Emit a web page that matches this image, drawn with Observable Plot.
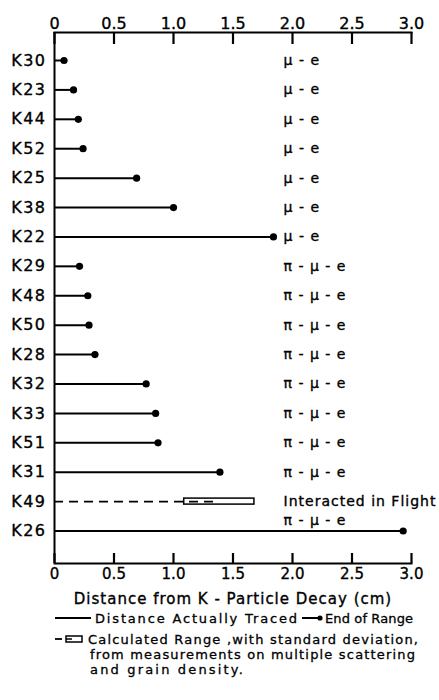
<!DOCTYPE html>
<html><head><meta charset="utf-8">
<script src="https://cdn.jsdelivr.net/npm/d3@7"></script>
<script src="https://cdn.jsdelivr.net/npm/@observablehq/plot@0.6"></script>
<style>
body{margin:0;background:#fff;font-family:"DejaVu Sans",sans-serif;}
#chart svg{display:block;}
#chart svg text{stroke:#000;stroke-width:0.35px;}
g[aria-label="y-axis tick label"] text{letter-spacing:1.5px;}
g[aria-label="x-axis label"] text{letter-spacing:1px;}
.decay text{letter-spacing:1px;}
#legend svg{display:block;}
#legend text{stroke:#000;stroke-width:0.3px;}
</style></head><body><div id="chart"></div><div id="legend"></div>
<script>
// ---- data ----
const names = ["K30","K23","K44","K52","K25","K38","K22","K29","K48","K50","K28","K32","K33","K51","K31","K49","K26"];
const traced = [0.08,0.16,0.20,0.24,0.69,1.00,1.84,0.21,0.28,0.29,0.34,0.77,0.85,0.87,1.39,1.35,2.93];
const endOfRange = [true,true,true,true,true,true,true,true,true,true,true,true,true,true,true,false,true];
const decay = ["μ - e","μ - e","μ - e","μ - e","μ - e","μ - e","μ - e",
  "π - μ - e","π - μ - e","π - μ - e","π - μ - e","π - μ - e","π - μ - e","π - μ - e","π - μ - e",
  "Interacted in Flight","π - μ - e"];
const calcName = ["K49"];
const calcLow = [1.09];
const calcHigh = [1.68];
const tickValues = [0,0.5,1,1.5,2,2.5,3];
const xLabel = "Distance from K - Particle Decay (cm)";
const labelX = 1.925;

const rows = names.map((n,i)=>({name:n, traced:traced[i], ended:endOfRange[i], decay:decay[i]}));
const calc = calcName.map((n,i)=>({name:n, low:calcLow[i], high:calcHigh[i]}));
const ended = rows.filter(d=>d.ended);
const flight = rows.filter(d=>!d.ended);
const fmt = d => d===0 ? "0" : d.toFixed(1);

const plot = Plot.plot({
  width: 439, height: 612,
  marginLeft: 54, marginRight: 28, marginTop: 32, marginBottom: 49,
  style: {fontFamily: "DejaVu Sans", fontSize: "14px", color: "#000", background: "#fff"},
  x: {domain: [0,3]},
  y: {type: "point", domain: names, range: [60, 530.5], padding: 0, round: false},
  marks: [
    Plot.frame({anchor: "top", strokeWidth: 2}),
    Plot.frame({anchor: "bottom", strokeWidth: 2}),
    Plot.ruleX([0], {strokeWidth: 2}),
    Plot.ruleX(tickValues, {insetBottom: 519, strokeWidth: 2.2}),
    Plot.ruleX(tickValues, {insetTop: 521, strokeWidth: 2.2}),
    Plot.ruleY(ended, {y: "name", x1: 0, x2: "traced", strokeWidth: 2}),
    Plot.rect(calc, {x1: "low", x2: "high", y1: "name", y2: "name", insetTop: -3, insetBottom: -3, fill: "white", stroke: "black", strokeWidth: 1.5}),
    Plot.ruleY(flight, {y: "name", x1: 0, x2: "traced", strokeWidth: 1.8, strokeDasharray: "9,6"}),
    Plot.dot(ended, {x: "traced", y: "name", r: 3.6, fill: "black", stroke: null}),
    Plot.text(rows.filter(d=>d.name!=="K26"), {x: () => labelX, y: "name", text: "decay", textAnchor: "start", fontSize: 14, className: "decay"}),
    Plot.text(rows.filter(d=>d.name==="K26"), {x: () => labelX, y: "name", text: "decay", textAnchor: "start", fontSize: 14, dy: -10, className: "decay"}),
    Plot.axisX({anchor: "top", ticks: tickValues, tickSize: 0, tickPadding: 4, tickFormat: fmt, fontSize: 16, label: null}),
    Plot.axisX({anchor: "bottom", ticks: tickValues, tickSize: 0, tickPadding: 5, tickFormat: fmt, fontSize: 15,
      label: xLabel, labelAnchor: "center", labelArrow: "none", labelOffset: 40}),
    Plot.axisY({anchor: "left", tickSize: 0, tickPadding: 8, fontSize: 16, label: null})
  ]
});
document.getElementById("chart").append(plot);

// ---- legend (below the chart) ----
const lg = d3.select("#legend").append("svg").attr("width", 439).attr("height", 88)
  .attr("font-family", "DejaVu Sans").attr("font-size", 13);
lg.append("line").attr("x1",55).attr("x2",91).attr("y1",6).attr("y2",6).attr("stroke","black").attr("stroke-width",2);
lg.append("text").attr("x",95).attr("y",11).attr("textLength",202).attr("lengthAdjust","spacing").text("Distance Actually Traced");
lg.append("line").attr("x1",302).attr("x2",320).attr("y1",6).attr("y2",6).attr("stroke","black").attr("stroke-width",2);
lg.append("circle").attr("cx",320).attr("cy",6).attr("r",2.6).attr("fill","black");
lg.append("text").attr("x",325).attr("y",11).attr("textLength",88).attr("lengthAdjust","spacing").text("End of Range");
lg.append("line").attr("x1",55).attr("x2",62).attr("y1",27).attr("y2",27).attr("stroke","black").attr("stroke-width",1.8);
lg.append("rect").attr("x",66).attr("y",24).attr("width",16).attr("height",6).attr("fill","white").attr("stroke","black").attr("stroke-width",1.5);
lg.append("line").attr("x1",66).attr("x2",72).attr("y1",27).attr("y2",27).attr("stroke","black").attr("stroke-width",1.5);
lg.append("text").attr("x",88).attr("y",32).attr("textLength",330).attr("lengthAdjust","spacing").text("Calculated Range ,with standard deviation,");
lg.append("text").attr("x",90).attr("y",47).attr("textLength",325).attr("lengthAdjust","spacing").text("from measurements on multiple scattering");
lg.append("text").attr("x",90).attr("y",62).attr("textLength",153).attr("lengthAdjust","spacing").text("and grain density.");
</script></body></html>
